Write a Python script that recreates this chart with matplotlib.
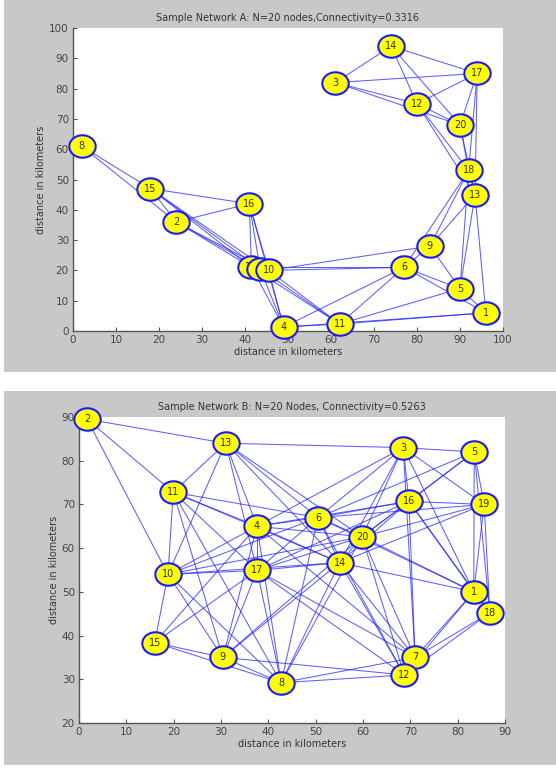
import matplotlib
matplotlib.use('Agg')
import matplotlib.pyplot as plt
from matplotlib.path import Path
from matplotlib.patches import Rectangle

# ---- Network A node positions (km) ----
a_labels = [1, 2, 3, 4, 5, 6, 8, 9, 11, 12, 13, 14, 15, 16, 17, 18, 20, 19, 7, 10]
a_x = [96, 24, 61, 49, 90, 77, 2, 83, 62, 80, 93.5, 74, 18, 41, 94, 92, 90, 41.5, 43.5, 45.5]
a_y = [6, 36, 82, 1.3, 14, 21, 61, 28, 2.3, 75, 45, 94, 47, 42, 85, 53, 68, 21, 20.5, 20]
a_edges = [(8, 15), (8, 2), (15, 16), (15, 2), (15, 7), (15, 19), (15, 10),
           (2, 16), (2, 7), (2, 19), (2, 10), (16, 7), (16, 19), (16, 10), (16, 4),
           (7, 19), (7, 10), (19, 10), (7, 4), (19, 4), (10, 4),
           (7, 11), (19, 11), (10, 11), (10, 6), (19, 6), (10, 9),
           (4, 11), (4, 6), (4, 1), (11, 6), (11, 5), (11, 1),
           (6, 9), (6, 5), (6, 1), (9, 5), (5, 1), (9, 13), (9, 18), (6, 18),
           (13, 5), (18, 5), (13, 1), (18, 13), (18, 20), (18, 12), (13, 12),
           (13, 20), (18, 17), (13, 17), (14, 12), (14, 20), (14, 17), (14, 3),
           (3, 17), (3, 12), (3, 20), (12, 17), (12, 20), (17, 20)]

# ---- Network B node positions (km) ----
b_labels = list(range(1, 21))
b_x = [83.4, 1.7, 68.5, 37.6, 83.5, 50.5, 71, 42.7, 30.4, 18.8,
       19.9, 68.7, 31, 55.1, 16, 69.7, 37.6, 86.8, 85.6, 59.8]
b_y = [50, 89.5, 83, 65, 82, 67, 35, 29.2, 35, 54,
       72.8, 31, 84, 56.7, 38.4, 70.7, 54.9, 45.2, 70, 62.6]
b_edges = [(2, 13), (2, 11), (2, 10),
           (13, 3), (13, 11), (13, 10), (13, 4), (13, 17), (13, 6), (13, 14), (13, 20),
           (11, 10), (11, 4), (11, 6), (11, 17), (11, 9), (11, 8), (11, 14),
           (10, 17), (10, 15), (10, 9), (10, 8), (10, 4), (10, 6), (10, 14), (10, 20),
           (15, 9), (15, 8), (15, 17), (15, 4),
           (9, 8), (9, 17), (9, 4), (9, 14), (9, 20), (9, 12),
           (8, 17), (8, 4), (8, 14), (8, 20), (8, 6), (8, 12), (8, 7),
           (12, 7), (12, 17), (12, 14), (12, 20), (12, 6), (12, 1), (12, 18),
           (7, 1), (7, 18), (7, 16), (7, 3), (7, 20), (7, 14), (7, 4), (7, 17),
           (1, 18), (1, 19), (1, 5), (1, 16), (1, 20), (1, 14), (1, 6), (1, 3),
           (18, 19), (18, 5), (18, 16),
           (19, 5), (19, 16), (19, 3), (19, 6), (19, 20), (19, 14),
           (5, 3), (5, 16), (5, 20), (5, 6),
           (3, 16), (3, 20), (3, 6), (3, 14), (3, 4),
           (16, 20), (16, 6), (16, 14), (16, 4), (16, 17),
           (6, 20), (6, 14), (6, 4), (6, 17),
           (20, 14), (20, 4), (20, 17),
           (14, 17), (14, 4),
           (4, 17)]

# slightly flattened circle, like the matlab markers
circ = Path.unit_circle()
node_marker = Path(circ.vertices * [1.0, 0.85], circ.codes)


def draw_net(ax, labels, xs, ys, edges, title, xlim, ylim, xticks, yticks):
    pos = {lab: (x, y) for lab, x, y in zip(labels, xs, ys)}
    for i, j in edges:
        ax.plot([pos[i][0], pos[j][0]], [pos[i][1], pos[j][1]],
                color='#2020ff', lw=0.75, alpha=0.72, zorder=1)
    for k, (lab, x, y) in enumerate(zip(labels, xs, ys)):
        ax.plot(x, y, marker=node_marker, ms=19, mfc='#ffff00', mec='#1a1aff',
                mew=1.5, ls='none', zorder=3 + k, clip_on=False)
        ax.text(x, y, str(lab), ha='center', va='center', fontsize=7,
                color='#333300', zorder=3 + k, clip_on=False)
    ax.set_xlim(xlim)
    ax.set_ylim(ylim)
    ax.set_xticks(xticks)
    ax.set_yticks(yticks)
    ax.set_title(title, fontsize=7, color='#333333', pad=5)
    ax.set_xlabel('distance in kilometers', fontsize=7, color='#333333', labelpad=1)
    ax.set_ylabel('distance in kilometers', fontsize=7, color='#333333', labelpad=2)
    for s in ['top', 'right']:
        ax.spines[s].set_visible(False)
    for s in ['left', 'bottom']:
        ax.spines[s].set_color('#555555')
        ax.spines[s].set_linewidth(1.0)
    ax.tick_params(direction='in', length=3, labelsize=7.5, colors='#555555',
                   labelcolor='#444444', pad=3)


fig = plt.figure(figsize=(5.56, 7.69), dpi=100)
fig.patch.set_facecolor('white')
fig.patches.append(Rectangle((4 / 556, 1 - 372 / 769), 552 / 556, 372 / 769,
                             transform=fig.transFigure, facecolor='#c8c8c8',
                             edgecolor='none', zorder=-10))
fig.patches.append(Rectangle((4 / 556, 1 - 765 / 769), 552 / 556, 374 / 769,
                             transform=fig.transFigure, facecolor='#c8c8c8',
                             edgecolor='none', zorder=-10))

ax1 = fig.add_axes([73 / 556, 1 - 331 / 769, 430 / 556, 303 / 769])
draw_net(ax1, a_labels, a_x, a_y, a_edges,
         'Sample Network A: N=20 nodes,Connectivity=0.3316',
         (0, 100), (0, 100), range(0, 101, 10), range(0, 101, 10))

ax2 = fig.add_axes([79 / 556, 1 - 723 / 769, 426 / 556, 306 / 769])
draw_net(ax2, b_labels, b_x, b_y, b_edges,
         'Sample Network B: N=20 Nodes, Connectivity=0.5263',
         (0, 90), (20, 90), range(0, 91, 10), range(20, 91, 10))

fig.savefig('out.png', dpi=100)
